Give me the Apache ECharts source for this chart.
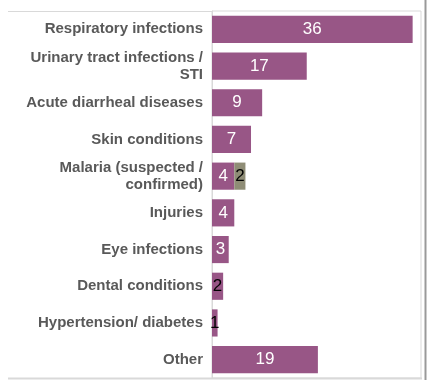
<!DOCTYPE html>
<html><head><meta charset="utf-8">
<script src="https://cdn.jsdelivr.net/npm/echarts@6/dist/echarts.min.js"></script>
<style>html,body{margin:0;padding:0;background:#fff}#c{width:427px;height:380px}</style>
</head><body><div id="c"></div>
<script>
var categories = ["Respiratory infections", "Urinary tract infections /\nSTI", "Acute diarrheal diseases", "Skin conditions", "Malaria (suspected /\nconfirmed)", "Injuries", "Eye infections", "Dental conditions", "Hypertension/ diabetes", "Other"];
var mainValues = [36, 17, 9, 7, 4, 4, 3, 2, 1, 19];
var extraValues = [null, null, null, null, 2, null, null, null, null, null];

var chart = echarts.init(document.getElementById('c'), null, {renderer: 'canvas'});
var FONT = '"Liberation Sans", Arial, sans-serif';
function mk(vals, dark) {
  return vals.map(function (v) {
    if (v == null) return null;
    return {value: v, label: {color: (dark || v < 3) ? '#000' : '#fff'}};
  });
}
chart.setOption({
  animation: false,
  grid: {left: 212, top: 11, right: 6, bottom: 2, show: true, borderColor: '#d9d9d9', borderWidth: 1},
  xAxis: {type: 'value', min: 0, max: 37.5, show: false},
  yAxis: {
    type: 'category', data: categories, inverse: true,
    axisLine: {show: true, lineStyle: {color: '#d9d9d9'}},
    axisTick: {show: false},
    axisLabel: {color: '#595959', fontWeight: 'bold', fontSize: 15, fontFamily: FONT, margin: 9, lineHeight: 17}
  },
  series: [
    {type: 'bar', stack: 's', data: mk(mainValues, false), barCategoryGap: '26%',
     itemStyle: {color: '#985686'},
     label: {show: true, position: 'inside', fontSize: 17, fontFamily: FONT}},
    {type: 'bar', stack: 's', data: mk(extraValues, true),
     itemStyle: {color: '#8f8d76'},
     label: {show: true, position: 'inside', fontSize: 17, fontFamily: FONT}}
  ],
  graphic: [
    {type: 'line', shape: {x1: 8, y1: 11.5, x2: 212, y2: 11.5}, style: {stroke: '#d9d9d9', lineWidth: 1}},
    {type: 'line', shape: {x1: 8, y1: 378.5, x2: 422, y2: 378.5}, style: {stroke: '#d9d9d9', lineWidth: 2}},
    {type: 'line', shape: {x1: 425.5, y1: 0, x2: 425.5, y2: 380}, style: {stroke: '#999', lineWidth: 2}}
  ]
});
</script></body></html>
